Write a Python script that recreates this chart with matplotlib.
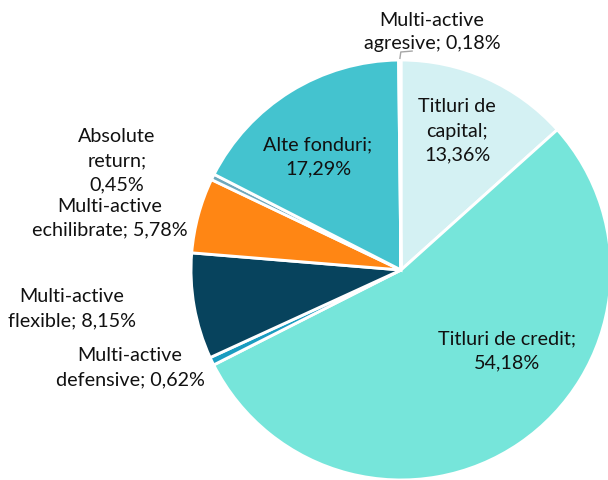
import matplotlib
matplotlib.use("Agg")
import matplotlib.pyplot as plt
import numpy as np

# Fund allocation by category (share of total assets, %)
categories = [
    "Titluri de capital",
    "Titluri de credit",
    "Multi-active defensive",
    "Multi-active flexible",
    "Multi-active echilibrate",
    "Absolute return",
    "Alte fonduri",
    "Multi-active agresive",
]
shares = [13.36, 54.18, 0.62, 8.15, 5.78, 0.45, 17.29, 0.18]
label_lines = [
    ["Titluri de", "capital;"],
    ["Titluri de credit;"],
    ["Multi-active", "defensive;"],
    ["Multi-active", "flexible;"],
    ["Multi-active", "echilibrate;"],
    ["Absolute", "return;"],
    ["Alte fonduri;"],
    ["Multi-active", "agresive;"],
]

colors = ["#D4F1F3", "#76E5DA", "#1A9CC0", "#07435D",
          "#FF8614", "#6FA8BC", "#44C3CF", "#BFBFBF"]

W, H = 608, 481
fig = plt.figure(figsize=(W / 100, H / 100), dpi=100)
ax = fig.add_axes([0, 0, 1, 1])

cx, cy, r = 401, H - 271, 210
wedges, _ = ax.pie(shares, colors=colors, startangle=90, counterclock=False,
                   center=(cx, cy), radius=r, frame=True,
                   wedgeprops=dict(edgecolor="white", linewidth=2.1))
ax.set_xlim(0, W)
ax.set_ylim(0, H)
ax.set_aspect("equal")
ax.axis("off")


def fmt(v):
    return f"{v:.2f}".replace(".", ",") + "%"


def build(lines, v):
    # two-line "Multi-active" labels carry the percentage on their second line
    if len(lines) == 2 and lines[0].startswith("Multi"):
        return lines[0] + "\n" + lines[1] + " " + fmt(v)
    return "\n".join(lines) + "\n" + fmt(v)


# label anchor points (pixel layout, measured from top-left)
label_pos = [(457, 131), (507, 351), (130, 368), (72, 309),
             (110, 218), (117, 161), (318, 157), (432, 32)]

font = dict(family="Lato", size=14.2, color="#111111")
for lines, v, (x, y) in zip(label_lines, shares, label_pos):
    ax.text(x, H - y, build(lines, v), ha="center", va="center",
            linespacing=1.5, **font)

# leader line for the smallest slice
w = wedges[-1]
ang = np.deg2rad((w.theta1 + w.theta2) / 2)
ex, ey = cx + r * np.cos(ang), cy + r * np.sin(ang)
ax.plot([ex, ex + 1, ex + 13], [ey + 1, ey + 8, ey + 9], color="#A6A6A6",
        lw=1.0, solid_capstyle="butt")

fig.savefig("out.png", dpi=100)
